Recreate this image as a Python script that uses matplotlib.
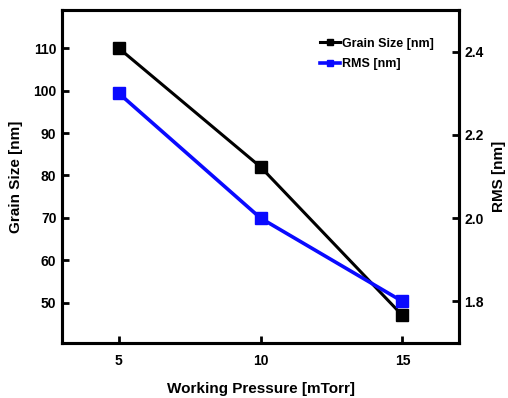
import matplotlib.pyplot as plt

plt.rcParams['font.family'] = ['Liberation Sans', 'DejaVu Sans']
plt.rcParams['font.weight'] = 'bold'

pressure = [5, 10, 15]
grain_size = [110, 82, 47]
rms = [2.3, 2.0, 1.8]

fig = plt.figure(figsize=(5.08, 3.98), dpi=100)
ax = fig.add_axes([0.122, 0.138, 0.782, 0.837])
ax2 = ax.twinx()

l1, = ax.plot(pressure, grain_size, color='black', lw=2.2, marker='s', ms=8,
              label='Grain Size [nm]')
l2, = ax2.plot(pressure, rms, color='#0a0aff', lw=2.6, marker='s', ms=8,
               label='RMS [nm]')

ax.set_xlim(3, 17)
ax.set_ylim(40.5, 119)
ax2.set_ylim(1.7, 2.5)
ax.set_xticks([5, 10, 15])
ax.set_yticks(range(50, 111, 10))
ax2.set_yticks([1.8, 2.0, 2.2, 2.4])
ax2.set_yticklabels(['1.8', '2.0', '2.2', '2.4'])

for a in (ax, ax2):
    for s in a.spines.values():
        s.set_linewidth(2.2)
    a.tick_params(direction='in', width=2, length=5, labelsize=10)
ax.tick_params(axis='x', pad=8)
ax.tick_params(axis='y', pad=4)

ax.set_xlabel('Working Pressure [mTorr]', fontsize=11, fontweight='bold', labelpad=10)
ax.set_ylabel('Grain Size [nm]', fontsize=11, fontweight='bold', labelpad=7)
ax2.set_ylabel('RMS [nm]', fontsize=11, fontweight='bold', labelpad=6)

ax2.legend(handles=[l1, l2], loc='upper right', bbox_to_anchor=(0.965, 0.95),
           frameon=False, fontsize=9, handlelength=1.6, handletextpad=0.2,
           labelspacing=0.65, markerscale=0.5)

fig.savefig('out.png', dpi=100)
